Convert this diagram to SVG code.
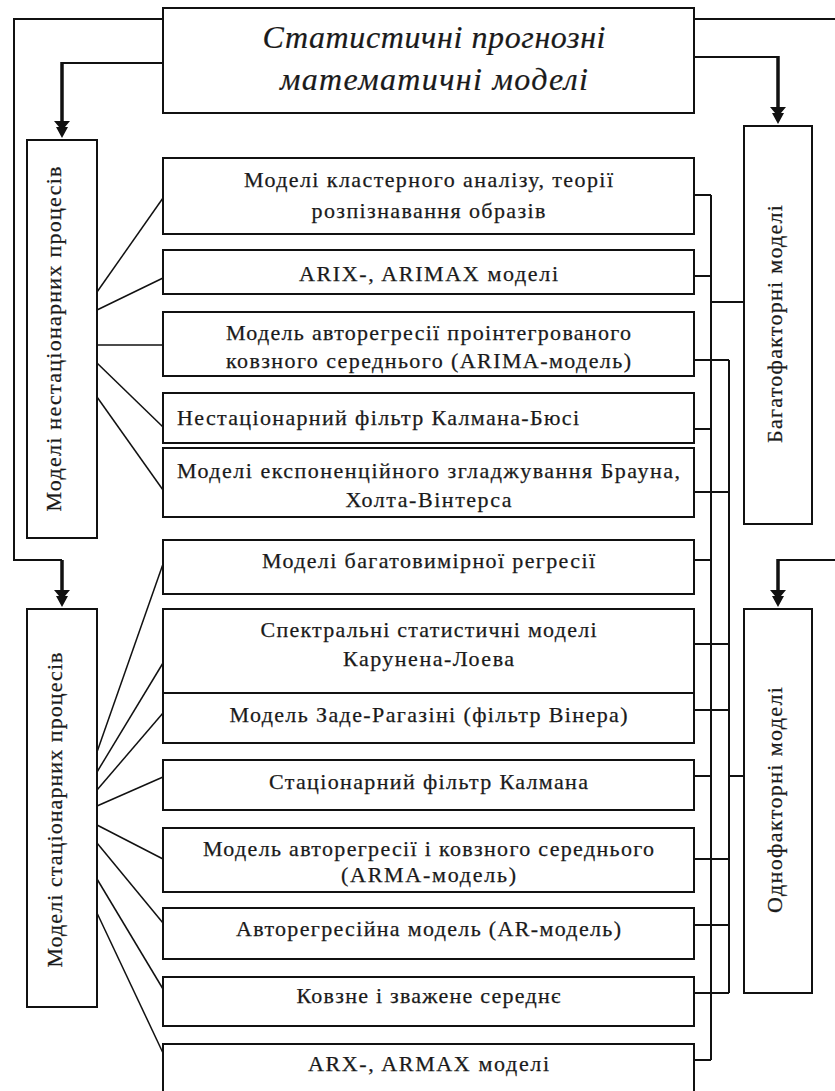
<svg xmlns="http://www.w3.org/2000/svg" width="835" height="1091" viewBox="0 0 835 1091">
<style>
.box{fill:#fff;stroke:#111;stroke-width:2}
.ln{fill:none;stroke:#111;stroke-width:2}
.fan{fill:none;stroke:#111;stroke-width:1.5}
.shaft{fill:none;stroke:#111;stroke-width:3.5}
.t{font-family:"Liberation Serif","Times New Roman",serif;font-size:22px;fill:#1a1a1a;stroke:#1a1a1a;stroke-width:0.25;text-anchor:middle}
.tl{font-family:"Liberation Serif","Times New Roman",serif;font-size:22px;fill:#1a1a1a;stroke:#1a1a1a;stroke-width:0.25}
.title{font-family:"Liberation Serif","Times New Roman",serif;font-size:32px;font-style:italic;fill:#1a1a1a;stroke:#1a1a1a;stroke-width:0.2;text-anchor:middle}
</style>
<defs>
<path id="ah" d="M-8,-17 L8,-17 L3,-11 L6,-11 L0,0 L-6,-11 L-3,-11 Z" fill="#111"/>
</defs>
<rect width="835" height="1091" fill="#fff"/>

<g id="connectors">
<polyline class="ln" points="163,19 14,19 14,560 62,560"/>
<line class="shaft" x1="62" y1="560" x2="62" y2="596"/>
<use href="#ah" x="62" y="607"/>
<polyline class="ln" points="163,63 62,63"/>
<line class="shaft" x1="62" y1="62" x2="62" y2="122"/>
<use href="#ah" x="62" y="138"/>
<line class="ln" x1="694" y1="19" x2="840" y2="19"/>
<polyline class="ln" points="694,57 778,57"/>
<line class="shaft" x1="778" y1="56" x2="778" y2="112"/>
<use href="#ah" x="778" y="124"/>
<polyline class="ln" points="840,560 778,560"/>
<line class="shaft" x1="778" y1="559" x2="778" y2="596"/>
<use href="#ah" x="778" y="607"/>

<line class="ln" x1="711" y1="195" x2="711" y2="1060"/>
<line class="ln" x1="729" y1="360" x2="729" y2="993"/>
<line class="ln" x1="711" y1="302" x2="744" y2="302"/>
<line class="ln" x1="729" y1="776" x2="745" y2="776"/>
<line class="ln" x1="694" y1="195" x2="711" y2="195"/>
<line class="ln" x1="694" y1="276" x2="711" y2="276"/>
<line class="ln" x1="694" y1="360" x2="729" y2="360"/>
<line class="ln" x1="694" y1="429" x2="711" y2="429"/>
<line class="ln" x1="694" y1="492" x2="729" y2="492"/>
<line class="ln" x1="694" y1="560" x2="711" y2="560"/>
<line class="ln" x1="694" y1="644" x2="729" y2="644"/>
<line class="ln" x1="694" y1="710" x2="729" y2="710"/>
<line class="ln" x1="694" y1="776" x2="711" y2="776"/>
<line class="ln" x1="694" y1="859" x2="729" y2="859"/>
<line class="ln" x1="694" y1="925" x2="729" y2="925"/>
<line class="ln" x1="694" y1="993" x2="729" y2="993"/>
<line class="ln" x1="694" y1="1060" x2="711" y2="1060"/>

<line class="fan" x1="97" y1="292" x2="163" y2="198"/>
<line class="fan" x1="97" y1="310" x2="163" y2="278"/>
<line class="fan" x1="97" y1="345" x2="163" y2="345"/>
<line class="fan" x1="97" y1="363" x2="163" y2="427"/>
<line class="fan" x1="97" y1="397" x2="163" y2="490"/>
<line class="fan" x1="97" y1="752" x2="163" y2="564"/>
<line class="fan" x1="97" y1="772" x2="163" y2="663"/>
<line class="fan" x1="97" y1="790" x2="163" y2="713"/>
<line class="fan" x1="97" y1="806" x2="163" y2="777"/>
<line class="fan" x1="97" y1="825" x2="163" y2="859"/>
<line class="fan" x1="97" y1="843" x2="163" y2="923"/>
<line class="fan" x1="97" y1="879" x2="163" y2="989"/>
<line class="fan" x1="97" y1="913" x2="163" y2="1053"/>
</g>

<g id="title">
<rect class="box" x="163" y="8" width="531" height="105"/>
<text class="title" x="434" y="48" textLength="343" lengthAdjust="spacing">Статистичні прогнозні</text>
<text class="title" x="434" y="90" textLength="308" lengthAdjust="spacing">математичні моделі</text>
</g>

<g id="nonstationary">
<rect class="box" x="27" y="140" width="70" height="398"/>
<text class="t" transform="translate(61,339) rotate(-90)" textLength="345" lengthAdjust="spacing">Моделі нестаціонарних процесів</text>
</g>
<g id="stationary">
<rect class="box" x="27" y="609" width="70" height="398"/>
<text class="t" transform="translate(62,810) rotate(-90)" textLength="315" lengthAdjust="spacing">Моделі стаціонарних процесів</text>
</g>
<g id="multifactor">
<rect class="box" x="744" y="126" width="68" height="398"/>
<text class="t" transform="translate(782,324) rotate(-90)" textLength="238" lengthAdjust="spacing">Багатофакторні моделі</text>
</g>
<g id="singlefactor">
<rect class="box" x="744" y="609" width="68" height="384"/>
<text class="t" transform="translate(782,800) rotate(-90)" textLength="226" lengthAdjust="spacing">Однофакторні моделі</text>
</g>

<g id="m1">
<rect class="box" x="163" y="158" width="531" height="76"/>
<text class="t" x="428.5" y="187" textLength="369" lengthAdjust="spacing">Моделі кластерного аналізу, теорії</text>
<text class="t" x="428.5" y="218" textLength="234" lengthAdjust="spacing">розпізнавання образів</text>
</g>
<g id="m2">
<rect class="box" x="163" y="250" width="531" height="44"/>
<text class="t" x="428.5" y="281" textLength="259" lengthAdjust="spacing">ARIX-, ARIMAX моделі</text>
</g>
<g id="m3">
<rect class="box" x="163" y="312" width="531" height="64"/>
<text class="t" x="428.5" y="340" textLength="405" lengthAdjust="spacing">Модель авторегресії проінтегрованого</text>
<text class="t" x="428.5" y="368" textLength="405" lengthAdjust="spacing">ковзного середнього (ARIMA-модель)</text>
</g>
<g id="m4">
<rect class="box" x="163" y="393" width="531" height="50"/>
<text class="tl" x="177" y="425" textLength="402" lengthAdjust="spacing">Нестаціонарний фільтр Калмана-Бюсі</text>
</g>
<g id="m5">
<rect class="box" x="163" y="448" width="531" height="69"/>
<text class="t" x="428.5" y="478" textLength="503" lengthAdjust="spacing">Моделі експоненційного згладжування Брауна,</text>
<text class="t" x="428.5" y="507" textLength="166" lengthAdjust="spacing">Холта-Вінтерса</text>
</g>
<g id="m6">
<rect class="box" x="163" y="540" width="531" height="54"/>
<text class="t" x="428.5" y="568" textLength="333" lengthAdjust="spacing">Моделі багатовимірної регресії</text>
</g>
<g id="m7">
<rect class="box" x="163" y="609" width="531" height="84"/>
<text class="t" x="428.5" y="637" textLength="336" lengthAdjust="spacing">Спектральні статистичні моделі</text>
<text class="t" x="428.5" y="666" textLength="171" lengthAdjust="spacing">Карунена-Лоева</text>
</g>
<g id="m8">
<rect class="box" x="163" y="693" width="531" height="50"/>
<text class="t" x="428.5" y="722" textLength="398" lengthAdjust="spacing">Модель Заде-Рагазіні (фільтр Вінера)</text>
</g>
<g id="m9">
<rect class="box" x="163" y="760" width="531" height="50"/>
<text class="t" x="428.5" y="789" textLength="319" lengthAdjust="spacing">Стаціонарний фільтр Калмана</text>
</g>
<g id="m10">
<rect class="box" x="163" y="828" width="531" height="64"/>
<text class="t" x="428.5" y="856" textLength="451" lengthAdjust="spacing">Модель авторегресії і ковзного середнього</text>
<text class="t" x="428.5" y="882" textLength="175" lengthAdjust="spacing">(ARMA-модель)</text>
</g>
<g id="m11">
<rect class="box" x="163" y="908" width="531" height="51"/>
<text class="t" x="428.5" y="936" textLength="385" lengthAdjust="spacing">Авторегресійна модель (AR-модель)</text>
</g>
<g id="m12">
<rect class="box" x="163" y="977" width="531" height="49"/>
<text class="t" x="428.5" y="1003" textLength="264" lengthAdjust="spacing">Ковзне і зважене середнє</text>
</g>
<g id="m13">
<rect class="box" x="163" y="1044" width="531" height="52"/>
<text class="t" x="428.5" y="1071" textLength="241" lengthAdjust="spacing">ARX-, ARMAX моделі</text>
</g>
</svg>
